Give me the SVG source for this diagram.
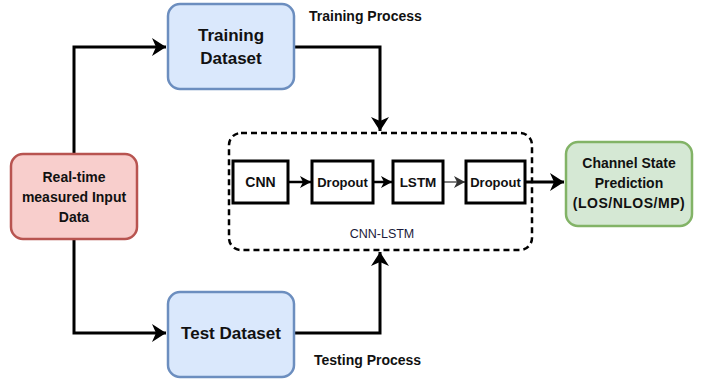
<svg xmlns="http://www.w3.org/2000/svg" width="705" height="382" viewBox="0 0 705 382">
<defs>
<marker id="big" markerUnits="userSpaceOnUse" markerWidth="15" markerHeight="19" refX="14" refY="9" orient="auto">
<path d="M0,0 L14,9 L0,18 L4,9 z" fill="#000"/>
</marker>
<marker id="small" markerUnits="userSpaceOnUse" markerWidth="12" markerHeight="13" refX="11" refY="6" orient="auto">
<path d="M0,0 L11,6 L0,12 L3,6 z" fill="#000"/>
</marker>
<marker id="gray" markerUnits="userSpaceOnUse" markerWidth="12" markerHeight="13" refX="11" refY="6" orient="auto">
<path d="M0,0 L11,6 L0,12 L3,6 z" fill="#333"/>
</marker>
</defs>
<style>
text{font-family:"Liberation Sans",Arial,sans-serif;font-weight:bold;fill:#111;text-anchor:middle}
.blue{fill:#dae8fc;stroke:#6c8ebf;stroke-width:2.5}
.red{fill:#f8cecc;stroke:#b85450;stroke-width:2.5}
.green{fill:#d5e8d4;stroke:#82b366;stroke-width:2.5}
.layer{fill:#fff;stroke:#000;stroke-width:3}
.conn{fill:none;stroke:#000;stroke-width:3}
.thin{fill:none;stroke:#000;stroke-width:2.5}
.lbl{font-size:14px;text-anchor:start}
</style>
<g id="connectors">
<path class="conn" d="M74,154 V47 H166" marker-end="url(#big)"/>
<path class="conn" d="M74,239 V333 H166" marker-end="url(#big)"/>
<path class="conn" d="M294,47 H380 V131" marker-end="url(#big)"/>
<path class="conn" d="M294,333 H380 V252" marker-end="url(#big)"/>
<path class="thin" d="M288,182 H311" marker-end="url(#small)"/>
<path class="thin" d="M373,182 H392" marker-end="url(#small)"/>
<path d="M443,182 H465" stroke="#555" stroke-width="1.5" fill="none" marker-end="url(#gray)"/>
<path class="conn" d="M525,182 H564" marker-end="url(#big)"/>
</g>
<g id="cnn-lstm">
<rect x="229" y="133" width="303" height="117" rx="12" fill="none" stroke="#000" stroke-width="2.5" stroke-dasharray="6,4"/>
<text x="382" y="238" style="font-size:12.5px;font-weight:normal;fill:#1a1a3a">CNN-LSTM</text>
</g>
<g id="training">
<rect class="blue" x="168" y="4" width="126" height="85" rx="12"/>
<text x="231" y="41" style="font-size:17px">Training</text>
<text x="231" y="64" style="font-size:17px">Dataset</text>
</g>
<g id="test">
<rect class="blue" x="168" y="292" width="126" height="85" rx="12"/>
<text x="231" y="339" style="font-size:17px">Test Dataset</text>
</g>
<g id="input">
<rect class="red" x="11" y="154" width="126" height="85" rx="12"/>
<text x="74" y="182" style="font-size:14px">Real-time</text>
<text x="74" y="202" style="font-size:14px">measured Input</text>
<text x="74" y="222" style="font-size:14px">Data</text>
</g>
<g id="cnn">
<rect class="layer" x="233" y="161" width="55" height="42"/>
<text x="260.5" y="187" style="font-size:14px">CNN</text>
</g>
<g id="dropout1">
<rect class="layer" x="312" y="161" width="61" height="42"/>
<text x="342.5" y="187" style="font-size:13px">Dropout</text>
</g>
<g id="lstm">
<rect class="layer" x="393" y="161" width="50" height="42"/>
<text x="418" y="187" style="font-size:13.5px">LSTM</text>
</g>
<g id="dropout2">
<rect class="layer" x="466" y="161" width="59" height="42"/>
<text x="495.5" y="187" style="font-size:13px">Dropout</text>
</g>
<g id="output">
<rect class="green" x="566" y="142" width="126" height="84" rx="12"/>
<text x="629" y="168" style="font-size:14px">Channel State</text>
<text x="629" y="188" style="font-size:14px">Prediction</text>
<text x="629" y="208" style="font-size:14px;letter-spacing:0.5px">(LOS/NLOS/MP)</text>
</g>
<g id="labels">
<text class="lbl" x="309" y="21">Training Process</text>
<text class="lbl" x="314" y="365">Testing Process</text>
</g>
</svg>
